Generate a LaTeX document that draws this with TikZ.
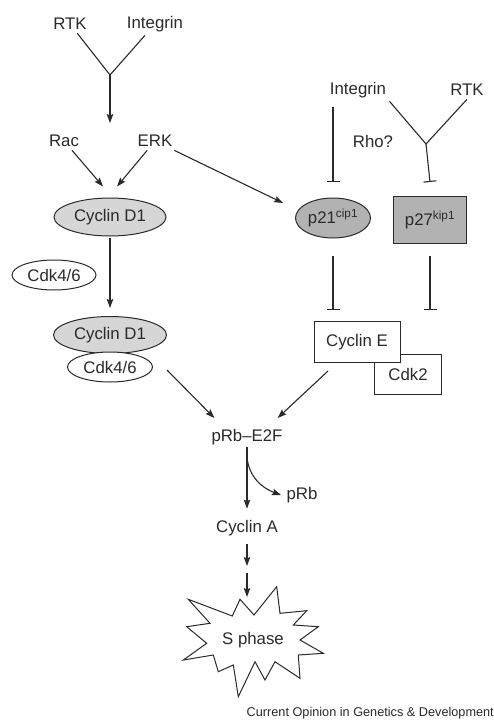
\documentclass[tikz,border=0pt]{standalone}
\usepackage{fontspec}
\setmainfont{Liberation Sans}
\usetikzlibrary{arrows.meta, shapes.geometric}
\definecolor{pathink}{HTML}{2A2A2A}
\definecolor{cyclingray}{HTML}{D6D6D6}
\definecolor{inhibgray}{HTML}{B2B2B2}

\begin{document}
\begin{tikzpicture}[
      x=1pt, y=-1pt,
      every node/.style={text=pathink, font=\fontsize{16.8}{19}\selectfont},
      prot/.style={draw=pathink, ellipse, line width=1pt, inner sep=0pt},
      cplx/.style={draw=pathink, rectangle, line width=1pt, inner sep=0pt},
      arr/.style={-{Stealth[length=9pt, width=6.5pt, inset=1.5pt]}, line width=1.1pt, pathink},
      inh/.style={-{Bar[width=13pt]}, line width=1.1pt, pathink},
      link/.style={line width=1.1pt, pathink},
    ]
    \useasboundingbox (0,0) rectangle (494,722);
    \fill[white] (0,0) rectangle (494,722);

    % Upstream signals, left branch
    \node (rtkA) at (70,24) {RTK};
    \node (intA) at (155,24) {Integrin};
    \coordinate (yA) at (110,75);
    \coordinate (sigA) at (110,123);
    \node (rac) at (64,141) {Rac};
    \node (erk) at (155,141) {ERK};

    % Upstream signals, right branch
    \node (intB) at (358,90) {Integrin};
    \node (rtkB) at (467,90) {RTK};
    \node (rho) at (373,141) {Rho?};
    \coordinate (yB) at (426,144);

    % Cyclin D1 and Cdk4/6
    \node[prot, fill=cyclingray, minimum width=112pt, minimum height=38pt] (cycD) at (110,217) {Cyclin D1};
    \node[prot, fill=white, minimum width=84pt, minimum height=30pt] (cdkA) at (54,275) {Cdk4/6};
    \node[prot, fill=cyclingray, minimum width=113pt, minimum height=37pt] (cycDb) at (110,335) {Cyclin D1};
    \node[prot, fill=white, minimum width=85pt, minimum height=30pt] (cdkB) at (110,367) {Cdk4/6};

    % CKIs
    \node[prot, fill=inhibgray, minimum width=75pt, minimum height=40pt] (p21) at (333,218) {p21\textsuperscript{cip1}};
    \node[cplx, fill=inhibgray, minimum width=73pt, minimum height=47pt] (p27) at (430,220) {p27\textsuperscript{kip1}};

    % Cyclin E / Cdk2
    \node[cplx, fill=white, minimum width=67pt, minimum height=40pt] (cdk2) at (408,374) {Cdk2};
    \node[cplx, fill=white, minimum width=86pt, minimum height=41pt] (cycE) at (357,342) {Cyclin E};

    % Downstream
    \node[inner sep=2pt] (prb) at (247,437) {pRb--E2F};
    \node (prbOut) at (302,495) {pRb};
    \node (cycA) at (247,528) {Cyclin A};
    \coordinate (midA) at (247,566);
    \coordinate (midB) at (247,573);
    \coordinate (sTop) at (247,597);

    % S phase burst
    \draw[line width=1pt, pathink, fill=white]
      (188.3,599.3) -- (232.3,616) -- (240,599.3) -- (254,615) -- (276.7,586.7)
      -- (280,613.3) -- (306.7,610.7) -- (293.3,625) -- (318.3,626.7) -- (300,640)
      -- (323.3,653.3) -- (298.3,655) -- (300,678.3) -- (275,661.7) -- (265,680)
      -- (255,661.7) -- (238.3,696.7) -- (233.3,665) -- (218.3,671.7) -- (213.3,655)
      -- (183.3,660) -- (206.7,643.3) -- (186.7,626.7) -- (210,623.3) -- cycle;
    \node (sphase) at (253,640) {S phase};

    % Arrows, left branch
    \draw[link] (rtkA) -- (yA) -- (intA);
    \draw[arr] (yA) -- (sigA);
    \draw[arr] (rac) -- ([xshift=-7pt, yshift=11pt]cycD.north);
    \draw[arr] (erk) -- ([xshift=7pt, yshift=11pt]cycD.north);
    \draw[arr] (erk) -- ([xshift=-12pt, yshift=15pt]p21.west);
    \draw[arr, shorten <=1pt, shorten >=8pt] (cycD) -- (cycDb);
    \draw[arr] ([xshift=14pt, yshift=-3pt]cdkB.east) -- ([xshift=5pt, yshift=9pt]prb.north west);

    % Inhibition, right branch
    \draw[link] (intB.south east) -- (yB) -- (rtkB.south);
    \draw[inh, shorten <=6pt] (p21.north |- intB.south) -- ([yshift=15pt]p21.north);
    \draw[inh] (yB) -- ([yshift=14pt]p27.north);
    \draw[inh, shorten <=17pt] (p21.south) -- ([yshift=11pt]p21.south |- cycE.north);
    \draw[inh, shorten <=12pt] (p27.south) -- ([yshift=11pt]p27.south |- cycE.north);
    \draw[arr] ([xshift=-29pt, yshift=-8pt]cycE.south) -- ([xshift=-7pt, yshift=9pt]prb.north east);

    % pRb release and S phase entry
    \draw[arr, shorten >=8pt] (prb) -- (cycA);
    \draw[arr] ([yshift=-10pt]prb.south) to[out=-85, in=160] ([xshift=-2pt]prbOut.west);
    \draw[arr, shorten <=5pt] (cycA) -- (midA);
    \draw[arr] (midB) -- (sTop);

    % Journal credit
    \node[anchor=east, inner sep=0pt, font=\fontsize{12.7}{14}\selectfont] (credit) at (494,713)
      {Current Opinion in Genetics \& Development};
\end{tikzpicture}
\end{document}
